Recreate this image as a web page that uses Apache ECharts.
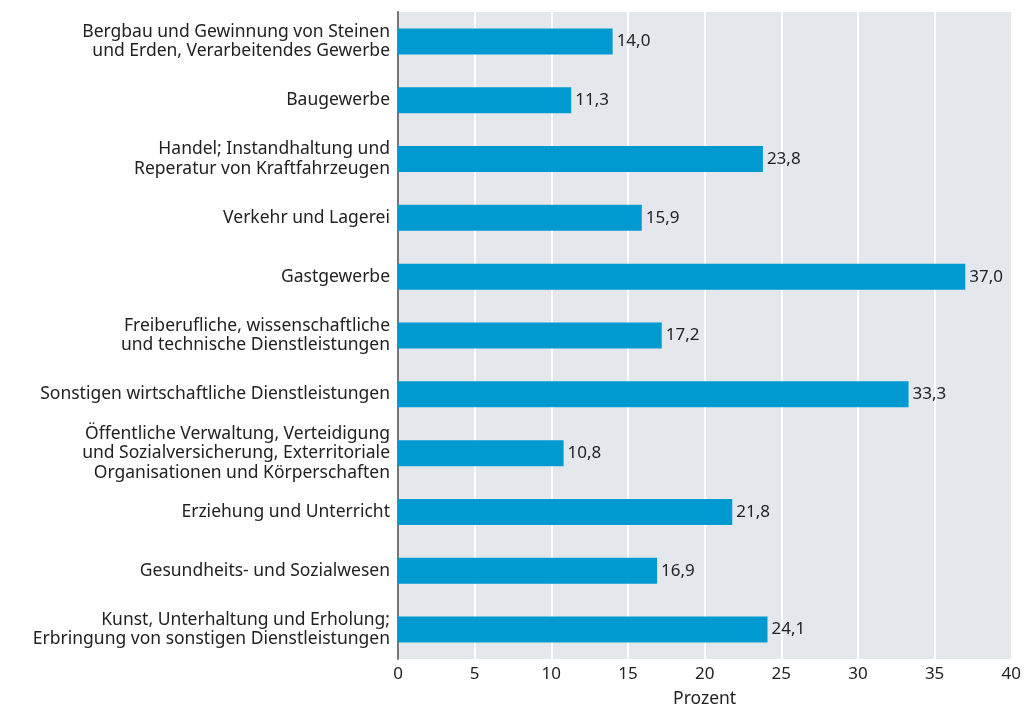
<!DOCTYPE html>
<html>
<head>
<meta charset="utf-8">
<script src="https://cdn.jsdelivr.net/npm/echarts@6/dist/echarts.min.js"></script>
<style>
  html, body { margin: 0; padding: 0; background: #fff; }
  #main { width: 1024px; height: 713px; }
</style>
</head>
<body>
<div id="main"></div>
<script>
// Branchen (oben nach unten)
const categories = [
  'Bergbau und Gewinnung von Steinen\nund Erden, Verarbeitendes Gewerbe',
  'Baugewerbe',
  'Handel; Instandhaltung und\nReperatur von Kraftfahrzeugen',
  'Verkehr und Lagerei',
  'Gastgewerbe',
  'Freiberufliche, wissenschaftliche\nund technische Dienstleistungen',
  'Sonstigen wirtschaftliche Dienstleistungen',
  'Öffentliche Verwaltung, Verteidigung\nund Sozialversicherung, Exterritoriale\nOrganisationen und Körperschaften',
  'Erziehung und Unterricht',
  'Gesundheits- und Sozialwesen',
  'Kunst, Unterhaltung und Erholung;\nErbringung von sonstigen Dienstleistungen'
];
const values = [14.0, 11.3, 23.8, 15.9, 37.0, 17.2, 33.3, 10.8, 21.8, 16.9, 24.1];
const xTicks = [0, 40, 5]; // min, max, interval

const fontFamily = '"Noto Sans", sans-serif';
const chart = echarts.init(document.getElementById('main'));

chart.setOption({
  animation: false,
  grid: {
    left: 398, right: 9, top: 12, bottom: 49,
    show: true, backgroundColor: '#e4e8ed', borderWidth: 0
  },
  xAxis: {
    type: 'value',
    min: xTicks[0], max: xTicks[1], interval: xTicks[2],
    name: 'Prozent',
    nameLocation: 'middle',
    nameGap: 31,
    nameTextStyle: { color: '#222', fontSize: 17.5, fontFamily: fontFamily },
    axisLine: { show: false },
    axisTick: { show: false },
    axisLabel: { color: '#222', fontSize: 17, fontFamily: fontFamily, margin: 7 },
    splitLine: { show: true, lineStyle: { color: '#ffffff', width: 2 } }
  },
  yAxis: {
    type: 'category',
    data: categories,
    inverse: true,
    axisLine: { show: true, lineStyle: { color: '#777', width: 2 } },
    axisTick: { show: false },
    axisLabel: {
      color: '#222', fontSize: 17.5, fontFamily: fontFamily,
      lineHeight: 19.5, align: 'right', margin: 8
    }
  },
  series: [{
    type: 'bar',
    data: values,
    barWidth: 26,
    itemStyle: { color: '#0099d0' },
    label: {
      show: true, position: 'right', distance: 4,
      color: '#222', fontSize: 17, fontFamily: fontFamily,
      formatter: p => p.value.toFixed(1).replace('.', ',')
    }
  }]
});
</script>
</body>
</html>
